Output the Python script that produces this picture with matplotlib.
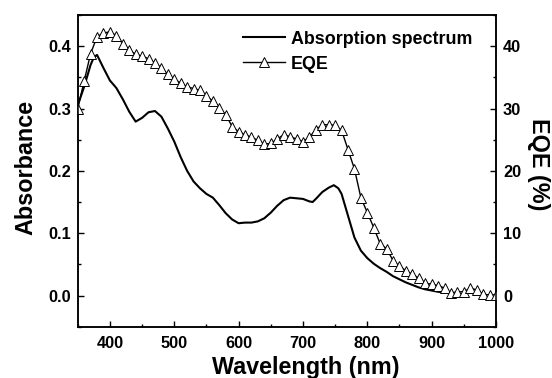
import matplotlib
matplotlib.use("Agg")
import matplotlib.pyplot as plt
from matplotlib.ticker import MultipleLocator

plt.rcParams['font.family'] = ['Liberation Sans', 'DejaVu Sans']
plt.rcParams['font.weight'] = 'bold'

# absorption spectrum (nm, absorbance)
abs_wl = [350, 360, 370, 375, 380, 390, 400, 410, 420, 430, 440, 450, 460, 470,
          480, 490, 500, 510, 520, 530, 540, 550, 560, 570, 580, 590, 600, 610,
          620, 630, 640, 650, 660, 670, 680, 690, 700, 710, 715, 720, 730, 740,
          748, 755, 760, 770, 780, 790, 800, 810, 820, 830, 840, 850, 860, 870,
          880, 890, 900, 910, 920, 930]
abs_val = [0.305, 0.335, 0.370, 0.382, 0.386, 0.365, 0.345, 0.333, 0.315, 0.295,
           0.279, 0.285, 0.294, 0.296, 0.287, 0.268, 0.247, 0.222, 0.200, 0.183,
           0.172, 0.163, 0.157, 0.145, 0.132, 0.122, 0.116, 0.117, 0.117, 0.119,
           0.124, 0.133, 0.144, 0.153, 0.157, 0.156, 0.155, 0.151, 0.150, 0.155,
           0.166, 0.173, 0.177, 0.172, 0.163, 0.128, 0.093, 0.072, 0.060, 0.051,
           0.044, 0.038, 0.031, 0.026, 0.021, 0.017, 0.013, 0.010, 0.008, 0.006,
           0.005, 0.004]

# EQE (%), every 10 nm from 350 to 1000
eqe_wl = list(range(350, 1001, 10))
eqe_val = [30.0, 34.4, 38.8, 41.5, 42.1, 42.3, 41.7, 40.4, 39.4, 38.7,
           38.4, 38.0, 37.3, 36.5, 35.5, 34.7, 34.1, 33.5, 33.2, 32.9,
           32.0, 31.2, 30.1, 29.0, 27.1, 26.3, 25.8, 25.4, 24.9, 24.3,
           24.4, 25.1, 25.8, 25.5, 25.1, 24.7, 25.4, 26.6, 27.4, 27.4,
           27.3, 26.5, 23.4, 20.3, 15.7, 13.3, 10.9, 8.3, 7.5, 5.6,
           4.7, 4.0, 3.4, 2.8, 2.0, 1.8, 1.6, 1.2, 0.4, 0.6,
           0.6, 1.2, 0.9, 0.2, 0.1, 0.1]

fig = plt.figure(figsize=(5.52, 3.78), dpi=100)
ax = fig.add_axes([0.1408, 0.1357, 0.7578, 0.8246])
ax2 = ax.twinx()

l1, = ax.plot(abs_wl, abs_val, color='black', lw=1.5, label='Absorption spectrum')
l2, = ax2.plot(eqe_wl, eqe_val, color='black', lw=1.0, marker='^', ms=6.5,
               mfc='white', mec='black', mew=0.7, label='EQE')

ax.set_xlim(350, 1000)
ax.set_ylim(-0.05, 0.45)
ax2.set_ylim(-5, 45)

ax.xaxis.set_major_locator(MultipleLocator(100))
ax.xaxis.set_minor_locator(MultipleLocator(50))
ax.yaxis.set_major_locator(MultipleLocator(0.1))
ax.yaxis.set_minor_locator(MultipleLocator(0.05))
ax2.yaxis.set_major_locator(MultipleLocator(10))
ax2.yaxis.set_minor_locator(MultipleLocator(5))

for a in (ax, ax2):
    a.tick_params(which='major', direction='in', length=4, width=1, labelsize=11.8)
    a.tick_params(which='minor', direction='in', length=2.5, width=1)
    for s in a.spines.values():
        s.set_linewidth(1.1)
ax.tick_params(axis='y', pad=4.5)
ax.tick_params(axis='x', pad=6.5)
ax2.tick_params(axis='y', pad=5)

ax.set_xlabel('Wavelength (nm)', fontsize=16.8, fontweight='bold', labelpad=4)
ax.set_ylabel('Absorbance', fontsize=16.8, fontweight='bold', labelpad=8)
ax2.set_ylabel('EQE (%)', fontsize=16.8, fontweight='bold', rotation=270, labelpad=21)
# the reference labels sit a bit off-centre
ax.xaxis.label.set_x(0.545)
ax.yaxis.label.set_y(0.512)
ax2.yaxis.label.set_y(0.52)

leg = ax.legend(handles=[l1, l2], loc='upper right', bbox_to_anchor=(0.974, 0.99),
                frameon=False, fontsize=12.9, handlelength=2.3, handletextpad=0.37,
                labelspacing=0.45, borderaxespad=0.3)

fig.savefig('out.png', dpi=100)
